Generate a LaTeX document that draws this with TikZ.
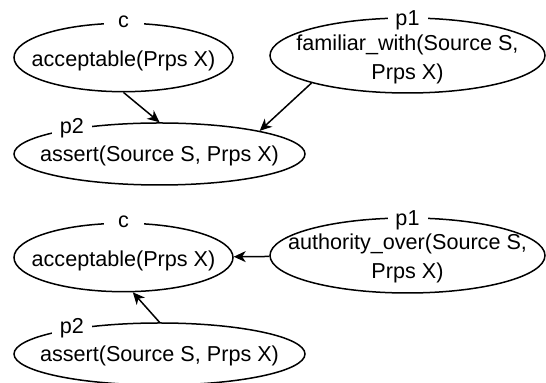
\documentclass[tikz,border=0pt]{standalone}
\usepackage{fontspec}
\setmainfont{Liberation Sans}
\usetikzlibrary{shapes.geometric,arrows.meta}

\begin{document}
\begin{tikzpicture}[x=0.5pt, y=-0.5pt, line width=0.75pt,
  >={Stealth[length=6pt,width=5.5pt,inset=1.8pt]},
  font=\fontsize{10.8}{14.5}\selectfont]
\tikzstyle{claim}=[draw, ellipse, inner sep=0pt];
\tikzstyle{term}=[align=center, inner sep=0pt];
\tikzstyle{tag}=[fill=white, inner sep=0pt, minimum width=20pt, minimum height=9pt];
\useasboundingbox (0,0) rectangle (546,383);
% first argument
\path (123.5,57.5) node[claim, minimum width=109.5pt, minimum height=34.2pt] (c1) {};
\path (159.5,154) node[claim, minimum width=145.5pt, minimum height=31pt] (p21) {};
\path (407.5,55.5) node[claim, minimum width=137.5pt, minimum height=37.5pt] (p11) {};
\path (123.5,61) node[term] (c1txt) {acceptable(Prps X)};
\path (159.5,156) node[term] (p21txt) {assert(Source S, Prps X)};
\path (407.5,59) node[term] (p11txt) {familiar\_with(Source S,\\Prps X)};
\path (123.5,22) node[tag] (c1tag) {c};
\path (72,128) node[tag] (p21tag) {p2};
\path (407.5,20) node[tag] (p11tag) {p1};
\draw[->] (c1.south) -- (p21.north);
\draw[->] (p11.196) -- (p21.13);
% second argument
\path (123.5,257.5) node[claim, minimum width=109.5pt, minimum height=34.2pt] (c2) {};
\path (159.5,354) node[claim, minimum width=145.5pt, minimum height=31pt] (p22) {};
\path (407.5,255.5) node[claim, minimum width=137.5pt, minimum height=37.5pt] (p12) {};
\path (123.5,261) node[term] (c2txt) {acceptable(Prps X)};
\path (159.5,356) node[term] (p22txt) {assert(Source S, Prps X)};
\path (407.5,258.5) node[term] (p12txt) {authority\_over(Source S,\\Prps X)};
\path (123.5,222) node[tag] (c2tag) {c};
\path (72,328) node[tag] (p22tag) {p2};
\path (407.5,220) node[tag] (p12tag) {p1};
\draw[->] (p12) -- (c2);
\draw[->] (p22.north) -- (c2.285);
\end{tikzpicture}
\end{document}
